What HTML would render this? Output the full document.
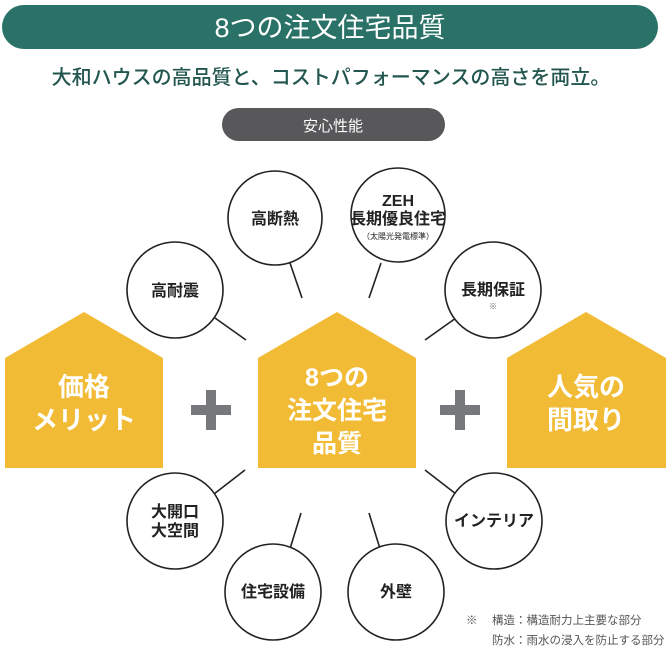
<!DOCTYPE html>
<html><head><meta charset="utf-8"><style>
body{margin:0;width:670px;height:649px;background:#fff;overflow:hidden;font-family:"Liberation Sans","Noto Sans CJK JP",sans-serif;}
</style></head><body>
<svg width="670" height="649" viewBox="0 0 670 649" xmlns="http://www.w3.org/2000/svg" style="display:block;font-family:'Liberation Sans','Noto Sans CJK JP',sans-serif">
<rect x="2" y="5" width="656" height="44" rx="22" fill="#2a7268"/>
<text x="330" y="37" text-anchor="middle" font-size="27" fill="#fff">8つの注文住宅品質</text>
<text x="331" y="84" text-anchor="middle" font-size="20" font-weight="500" fill="#22564f">大和ハウスの高品質と、コストパフォーマンスの高さを両立。</text>
<rect x="222" y="108" width="223" height="33" rx="16.5" fill="#58585a"/>
<text x="333" y="131" text-anchor="middle" font-size="15" fill="#fff">安心性能</text>

<g fill="#f2bb36">
<polygon points="5,358 84,312 163,358 163,468 5,468"/>
<polygon points="258,358 337,312 416,358 416,468 258,468"/>
<polygon points="507,358 586,312 666,358 666,468 507,468"/>
</g>
<g fill="#fff" font-weight="bold" text-anchor="middle">
<text x="84" y="396" font-size="26">価格</text>
<text x="84" y="429" font-size="26">メリット</text>
<text x="337" y="386" font-size="25">8つの</text>
<text x="337" y="419" font-size="25">注文住宅</text>
<text x="337" y="452" font-size="25">品質</text>
<text x="586" y="396" font-size="26">人気の</text>
<text x="586" y="429" font-size="26">間取り</text>
</g>
<g fill="#77787b">
<rect x="191" y="405" width="40" height="10"/><rect x="206" y="390" width="10" height="40"/>
<rect x="440" y="405" width="40" height="10"/><rect x="455" y="390" width="10" height="40"/>
</g>

<g stroke="#222" stroke-width="1.6" fill="none">
<line x1="215" y1="318" x2="246" y2="340"/>
<line x1="290" y1="263" x2="302" y2="298"/>
<line x1="381" y1="263" x2="369" y2="298"/>
<line x1="456" y1="318" x2="425" y2="340"/>
<line x1="245" y1="470" x2="214" y2="494"/>
<line x1="301" y1="513" x2="289" y2="552"/>
<line x1="369" y1="513" x2="381" y2="552"/>
<line x1="425" y1="470" x2="456" y2="494"/>
<circle cx="175" cy="290" r="48" fill="#fff"/>
<circle cx="275" cy="218" r="47" fill="#fff"/>
<circle cx="398" cy="215" r="47" fill="#fff"/>
<circle cx="493" cy="290" r="48" fill="#fff"/>
<circle cx="175" cy="521" r="48" fill="#fff"/>
<circle cx="273" cy="592" r="48" fill="#fff"/>
<circle cx="396" cy="592" r="48" fill="#fff"/>
<circle cx="494" cy="521" r="48" fill="#fff"/>
</g>
<g fill="#222" font-weight="bold" text-anchor="middle" font-size="16">
<text x="175" y="296">高耐震</text>
<text x="275" y="224">高断熱</text>
<text x="398" y="206">ZEH</text>
<text x="398" y="224">長期優良住宅</text>
<text x="398" y="239" font-size="8" font-weight="normal">（太陽光発電標準）</text>
<text x="493" y="295">長期保証</text>
<text x="493" y="309" font-size="8" font-weight="normal" fill="#666">※</text>
<text x="175" y="517">大開口</text>
<text x="175" y="536">大空間</text>
<text x="273" y="597">住宅設備</text>
<text x="396" y="597">外壁</text>
<text x="494" y="526">インテリア</text>
</g>
<g fill="#555" font-size="11.5">
<text x="466" y="624">※</text>
<text x="492" y="624">構造：構造耐力上主要な部分</text>
<text x="492" y="644">防水：雨水の浸入を防止する部分</text>
</g>
</svg>
</body></html>
